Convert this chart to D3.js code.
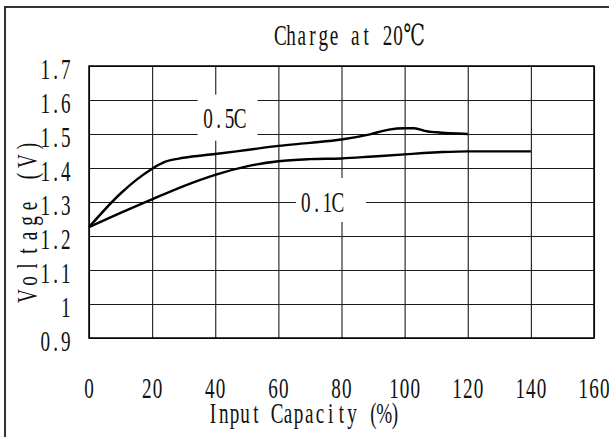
<!DOCTYPE html>
<html>
<head>
<meta charset="utf-8">
<script src="https://cdn.jsdelivr.net/npm/d3@7"></script>
<style>
  html, body { margin: 0; padding: 0; background: #fff; }
  text { font-family: "Liberation Serif", "DejaVu Serif", serif; fill: #111; }
</style>
</head>
<body>
<svg id="chart" width="609" height="437"></svg>
<script>
// chart values
var xTicks = [0, 20, 40, 60, 80, 100, 120, 140, 160];
var yTicks = [0.9, 1.0, 1.1, 1.2, 1.3, 1.4, 1.5, 1.6, 1.7];
var yTickLabels = ["0.9", "1", "1.1", "1.2", "1.3", "1.4", "1.5", "1.6", "1.7"];

var cap05x = [0, 10, 15, 20, 24, 30, 40, 50, 60, 70, 80, 89, 95, 100, 103, 107, 110, 120];
var cap05v = [1.226, 1.325, 1.365, 1.398, 1.418, 1.430, 1.441, 1.453, 1.465, 1.474, 1.484, 1.499, 1.513, 1.517, 1.517, 1.508, 1.505, 1.500];

var cap01x = [0, 10, 20, 30, 40, 50, 60, 70, 80, 90, 100, 106, 112, 120, 140];
var cap01v = [1.226, 1.268, 1.308, 1.347, 1.380, 1.405, 1.420, 1.426, 1.428, 1.434, 1.440, 1.444, 1.447, 1.449, 1.449];

var seriesNames = ["0.5C", "0.1C"];
// label anchor in data units (capacity, voltage)
var labelAt = [[42.8, 1.546], [73.8, 1.30]];
var boxAt = [[43.9, 1.548], [76.7, 1.306]];

var titleText = "Charge at 20\u2103";
var xTitle = "Input Capacity (%)";
var yTitle = "Voltage (V)";

var svg = d3.select("#chart");
var plotL = 89, plotR = 594, plotT = 66, plotB = 338;

var x = d3.scaleLinear().domain([0, 160]).range([plotL, plotR]);
var y = d3.scaleLinear().domain([0.9, 1.7]).range([plotB, plotT]);

// text in a fixed cell grid, glyphs squeezed like the narrow font of the original
function monoText(parent, str, px, py, anchor, cell, sx, size) {
    var units = Array.from(str).map(function (c) { return c.charCodeAt(0) > 0x2000 ? 2 : 1; });
    var total = d3.sum(units) * cell;
    var start = anchor == "middle" ? px - total / 2 : anchor == "end" ? px - total : px;
    var acc = 0;
    var xs = units.map(function (u) {
        var c = start + (acc + u / 2) * cell;
        acc += u;
        return (c / sx).toFixed(2);
    });
    return parent.append("text")
        .attr("transform", "scale(" + sx + ",1)")
        .attr("x", xs.join(" "))
        .attr("y", py)
        .attr("text-anchor", "middle")
        .attr("font-size", size)
        .text(str);
}

// outer frame (left and top edges only are visible)
svg.append("path")
    .attr("d", "M5,440 L5,7 L609,7")
    .attr("fill", "none")
    .attr("stroke", "#333")
    .attr("stroke-width", 2);

// grid
var gx = svg.append("g")
    .attr("transform", "translate(0," + plotB + ")")
    .call(d3.axisBottom(x).tickValues(xTicks).tickSize(-(plotB - plotT)).tickFormat(""));
var gy = svg.append("g")
    .attr("transform", "translate(" + plotL + ",0)")
    .call(d3.axisLeft(y).tickValues(yTicks).tickSize(-(plotR - plotL)).tickFormat(""));
[gx, gy].forEach(function (g) {
    g.select(".domain").remove();
    g.selectAll(".tick line").attr("stroke", "#1a1a1a").attr("stroke-width", 1.1);
});

// white boxes behind the series labels
var boxW = [60, 70], boxH = [46, 44];
boxAt.forEach(function (b, i) {
    svg.append("rect")
        .attr("x", x(b[0]) - boxW[i] / 2)
        .attr("y", y(b[1]) - boxH[i] / 2)
        .attr("width", boxW[i])
        .attr("height", boxH[i])
        .attr("fill", "#fff");
});

// curves
var line = d3.line()
    .x(function (d) { return x(d[0]); })
    .y(function (d) { return y(d[1]); })
    .curve(d3.curveMonotoneX);

[[cap05x, cap05v], [cap01x, cap01v]].forEach(function (s) {
    svg.append("path")
        .datum(s[0].map(function (v, i) { return [v, s[1][i]]; }))
        .attr("d", line)
        .attr("fill", "none")
        .attr("stroke", "#000")
        .attr("stroke-width", 2.4)
        .attr("stroke-linejoin", "round");
});

// plot frame
svg.append("rect")
    .attr("x", plotL).attr("y", plotT)
    .attr("width", plotR - plotL).attr("height", plotB - plotT)
    .attr("fill", "none")
    .attr("stroke", "#000")
    .attr("stroke-width", 1.5);

var fs = 29, sx = 0.66, cell = 10.7;

// series labels
seriesNames.forEach(function (n, i) {
    monoText(svg, n, x(labelAt[i][0]), y(labelAt[i][1]) + 10, "middle", cell, sx, fs);
});

// tick labels
xTicks.forEach(function (t) {
    monoText(svg, String(t), x(t), 398, "middle", cell, sx, fs);
});
yTicks.forEach(function (t, i) {
    monoText(svg, yTickLabels[i], 71, y(t) + 13.5, "end", 10.3, sx, fs);
});

// titles
monoText(svg, titleText, 350, 45, "middle", cell, sx, fs);
monoText(svg, xTitle, 304, 423, "middle", cell, sx, fs);
var yt = svg.append("g").attr("transform", "translate(37,221) rotate(-90)");
monoText(yt, yTitle, 0, 0, "middle", 15, sx, fs);
</script>
</body>
</html>
